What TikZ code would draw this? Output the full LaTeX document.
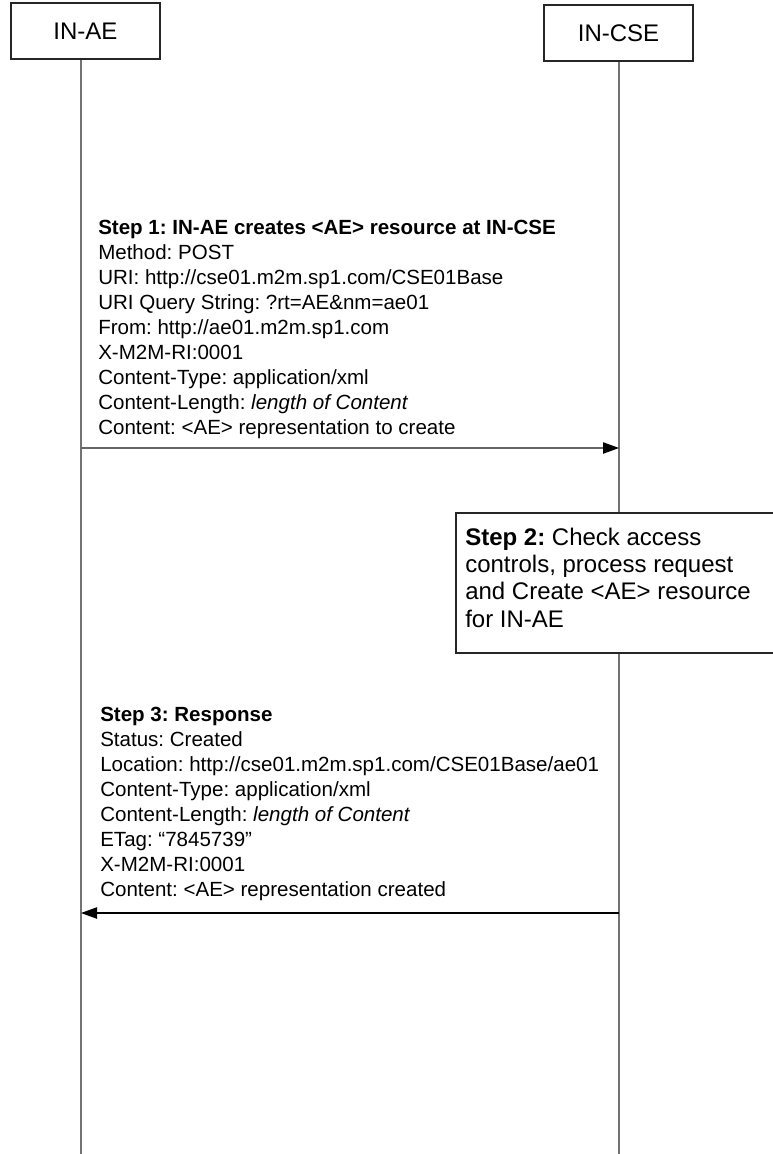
\documentclass[tikz,border=0pt]{standalone}
\usepackage{fontspec}
\setmainfont{Liberation Sans}
\usetikzlibrary{arrows.meta}
\frenchspacing

\begin{document}
\begin{tikzpicture}[x=0.75pt,y=-0.75pt,
  entity/.style={draw=black!85,line width=1.1pt,minimum width=111.75pt,minimum height=42pt,inner sep=0pt,font=\fontsize{18}{20}\selectfont},
  life/.style={draw=black!55,line width=0.9pt},
  msg/.style={draw=black!60,line width=0.9pt,-{Triangle[length=12pt,width=8.5pt,color=black]}},
  msgtext/.style={anchor=north west,align=left,inner sep=0pt,font=\fontsize{15.4}{18.75}\selectfont},
  stepbox/.style={draw=black!85,fill=white,line width=1.1pt},
  notetext/.style={anchor=north west,align=left,inner sep=0pt,font=\fontsize{18}{20.55}\selectfont}]

\useasboundingbox (0,0) rectangle (772,1154);

\node[entity] (ae) at (85.5,31) {IN-AE};
\node[entity] (cse) at (618.5,33) {IN-CSE};

\coordinate (ae-end) at (81,1154);
\coordinate (cse-end) at (619,1154);

\draw[life] (ae.south -| ae-end) -- (ae-end);
\draw[life] (cse.south -| cse-end) -- (cse-end);

\node[msgtext] (req) at (98,220) {\textbf{Step 1: IN-AE creates <AE> resource at IN-CSE}\\
  Method: POST\\
  URI: http://cse01.m2m.sp1.com/CSE01Base\\
  URI Query String: ?rt=AE\&nm=ae01\\
  From: http://ae01.m2m.sp1.com\\
  X-M2M-RI:0001\\
  Content-Type: application/xml\\
  Content-Length: \textit{length of Content}\\
  Content: <AE> representation to create};

\coordinate (req-ae) at (81,448);
\coordinate (req-cse) at (619,448);
\draw[msg] (req-ae) -- (req-cse);

\draw[stepbox] (456,513) rectangle (800,653);
\node[notetext] (check) at (465,527.5) {\textbf{Step 2:} Check access\\
  controls, process request\\
  and Create <AE> resource\\
  for IN-AE};

\node[msgtext] (rsp) at (100,707) {\textbf{Step 3: Response}\\
  Status: Created\\
  Location: http://cse01.m2m.sp1.com/CSE01Base/ae01\\
  Content-Type: application/xml\\
  Content-Length: \textit{length of Content}\\
  ETag: “7845739”\\
  X-M2M-RI:0001\\
  Content: <AE> representation created};

\coordinate (rsp-cse) at (619,913);
\coordinate (rsp-ae) at (81,913);
\draw[msg,draw=black] (rsp-cse) -- (rsp-ae);

\end{tikzpicture}
\end{document}
